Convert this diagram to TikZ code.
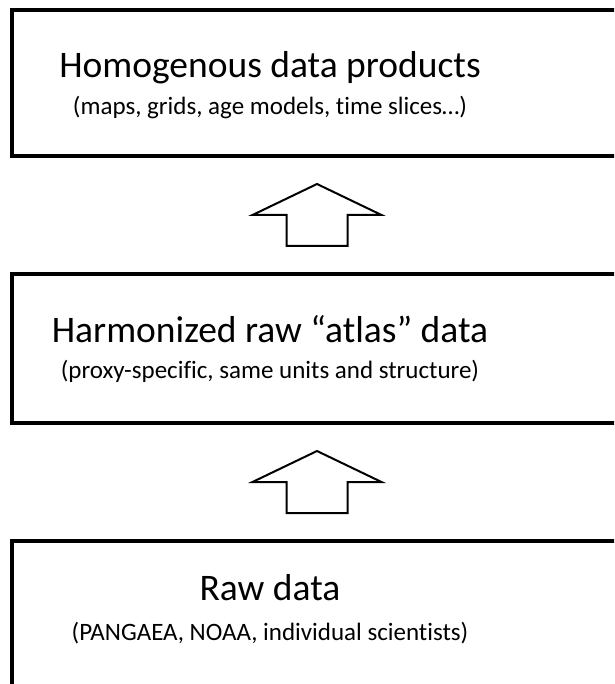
\documentclass[tikz,border=0pt]{standalone}
\usepackage{fontspec}
\setmainfont{Carlito}[Ligatures=NoCommon]
\usetikzlibrary{calc}

\tikzset{
  layer/.style={draw, line width=4pt, minimum width=610pt, inner sep=0pt},
  heading/.style={anchor=base, inner sep=0pt, font=\fontsize{37.5}{44}\selectfont},
  detail/.style={anchor=base, inner sep=0pt, font=\fontsize{25}{29}\selectfont},
  uparrow/.pic={
    \draw[line width=2pt, line join=miter] (0,-31) -- (64.5,0) -- (30.5,0) -- (30.5,31)
      -- (-30.5,31) -- (-30.5,0) -- (-64.5,0) -- cycle;
  }
}

\begin{document}
\begin{tikzpicture}[x=1pt, y=-1pt]
  \useasboundingbox (0,0) rectangle (614,684);
  \clip (0,0) rectangle (614,684);

  \node[layer, minimum height=146pt] (products) at (317,83) {};
  \node[layer, minimum height=149pt] (atlas) at (317,348.5) {};
  \node[layer, minimum height=180pt] (raw) at (317,631) {};

  \node[heading] (productstitle) at (270,78) {Homogenous data products};
  \node[detail] (productsnote) at (270,115) {(maps, grids, age models, time slices…)};

  \node[heading] (atlastitle) at (270,342) {Harmonized raw “atlas” data};
  \node[detail] (atlasnote) at (270,378) {(proxy-specific, same units and structure)};

  \node[heading] (rawtitle) at (270,600) {Raw data};
  \node[detail] (rawnote) at (270,640) {(PANGAEA, NOAA, individual scientists)};

  \pic at ($(products.south)!.5!(atlas.north)$) {uparrow};
  \pic at ($(atlas.south)!.5!(raw.north)$) {uparrow};
\end{tikzpicture}
\end{document}
